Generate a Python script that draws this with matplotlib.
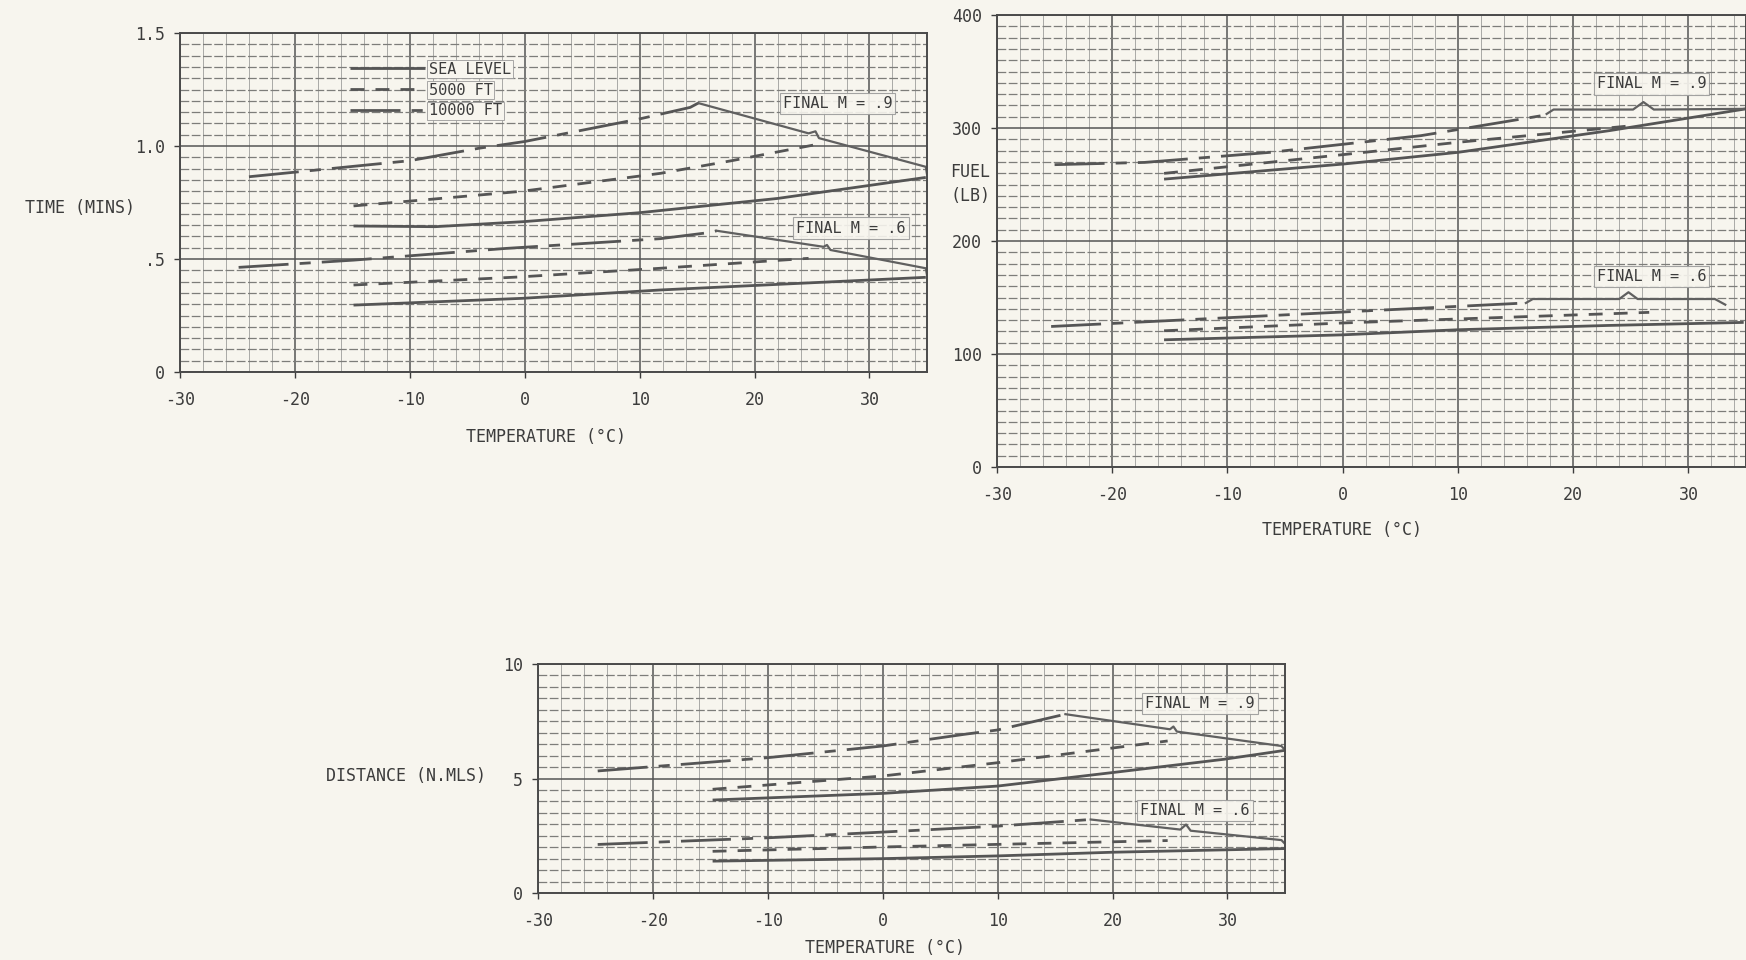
import matplotlib
matplotlib.use("Agg")
import matplotlib.pyplot as plt
import numpy as np
from matplotlib.ticker import MultipleLocator

# ---------------- data ----------------
x_ticks = [-30, -20, -10, 0, 10, 20, 30]
x_tick_labels = ["-30", "-20", "-10", "0", "10", "20", "30"]

# TIME (MINS)
time_yticks = [0, 0.5, 1.0, 1.5]
time_ylabels = ["0", ".5", "1.0", "1.5"]
t9_10k_T = [-24, -10, -4, 0, 5, 10, 14.4, 15.1]
t9_10k_v = [0.864, 0.935, 0.99, 1.02, 1.07, 1.12, 1.171, 1.19]
t9_5k_T = [-14.9, -8, -0.2, 11.8, 18, 25.1]
t9_5k_v = [0.735, 0.765, 0.80, 0.879, 0.935, 1.004]
t9_sl_T = [-14.9, -7.8, -0.2, 10, 22, 34.9]
t9_sl_v = [0.646, 0.643, 0.665, 0.705, 0.768, 0.861]
t9_br_T = [15.1, 24.7, 25.3, 25.6, 34.9, 35]
t9_br_v = [1.19, 1.056, 1.065, 1.035, 0.908, 0.876]
t6_10k_T = [-24.9, -14.9, -1.6, 11.8, 16.2, 16.7]
t6_10k_v = [0.463, 0.495, 0.547, 0.59, 0.618, 0.625]
t6_5k_T = [-14.9, -0.7, 11.8, 24.7]
t6_5k_v = [0.385, 0.42, 0.459, 0.503]
t6_sl_T = [-14.9, -0.2, 11.8, 34.9]
t6_sl_v = [0.296, 0.326, 0.363, 0.419]
t6_br_T = [16.7, 26.0, 26.3, 26.6, 34.9, 35]
t6_br_v = [0.625, 0.554, 0.562, 0.54, 0.459, 0.43]

# FUEL (LB)
fuel_yticks = [0, 100, 200, 300, 400]
fuel_ylabels = ["0", "100", "200", "300", "400"]
f9_10k_T = [-25, -17.2, -6.3, 6.8, 17.7]
f9_10k_v = [267.6, 269.6, 278.5, 293.3, 311.7]
f9_5k_T = [-15.5, 0.5, 10, 25.2]
f9_5k_v = [259.9, 277, 287.4, 302.2]
f9_sl_T = [-15.5, 0, 10, 23.2, 35]
f9_sl_v = [254.8, 268.1, 278.5, 297.8, 317]
f9_br_T = [17.7, 18.3, 25.2, 26.1, 27.0, 35]
f9_br_v = [312.5, 316.4, 316.4, 323, 316.4, 317]
f6_10k_T = [-25.3, 0, 10, 15.9]
f6_10k_v = [124.4, 137.2, 142.2, 145.2]
f6_5k_T = [-15.5, 0, 26.6]
f6_5k_v = [120.6, 127.5, 136.9]
f6_sl_T = [-15.5, 0, 10, 23, 34.8]
f6_sl_v = [112.6, 117, 121.5, 125.3, 128]
f6_br_T = [15.9, 16.5, 24.0, 24.8, 25.6, 32.3, 33.2]
f6_br_v = [145.2, 148.7, 148.7, 154.7, 148.7, 148.7, 143.7]

# DISTANCE (N.MLS)
dist_yticks = [0, 5, 10]
dist_ylabels = ["0", "5", "10"]
d9_10k_T = [-24.8, -10, 0, 7.1, 10, 15.9]
d9_10k_v = [5.33, 5.91, 6.42, 6.93, 7.12, 7.81]
d9_5k_T = [-14.8, 0, 10, 24.8]
d9_5k_v = [4.53, 5.11, 5.69, 6.64]
d9_sl_T = [-14.8, 0, 10, 20, 29.7, 35]
d9_sl_v = [4.06, 4.35, 4.67, 5.26, 5.84, 6.23]
d9_br_T = [15.9, 25.0, 25.3, 25.6, 34.7, 35]
d9_br_v = [7.81, 7.15, 7.27, 7.05, 6.42, 6.25]
d6_10k_T = [-24.8, -10, 0, 10, 18.1]
d6_10k_v = [2.12, 2.41, 2.66, 2.92, 3.21]
d6_5k_T = [-14.8, 0, 24.8]
d6_5k_v = [1.82, 2.01, 2.29]
d6_sl_T = [-14.8, 0, 10, 20, 35]
d6_sl_v = [1.39, 1.50, 1.62, 1.78, 1.94]
d6_br_T = [18.1, 25.9, 26.4, 26.8, 34.7, 35]
d6_br_v = [3.21, 2.77, 2.99, 2.72, 2.31, 2.15]

legend_labels = ["SEA LEVEL", "5000 FT", "10000 FT"]
final_labels = ["FINAL M = .9", "FINAL M = .6"]

# ---------------- style ----------------
PAPER = "#f7f5ee"
INK = "#3c3c3c"
LINE = "#555555"
FS = 12
plt.rcParams["font.family"] = ["DejaVu Sans Mono", "DejaVu Sans"]

STY_SL = dict(color=LINE, lw=2.0, ls="-", solid_capstyle="butt")
STY_5K = dict(color=LINE, lw=2.0, ls=(0, (5, 4)))
STY_10K = dict(color=LINE, lw=2.0, ls=(0, (18, 4, 4, 4)))
STY_BR = dict(color="#606060", lw=1.6, ls="-")

fig = plt.figure(figsize=(17.46, 9.6), dpi=100, facecolor=PAPER)


def setup(ax, yticks, ylabels, ymax, yminor, ymajor):
    ax.set_facecolor(PAPER)
    ax.set_xlim(-30, 35)
    ax.set_ylim(0, ymax)
    ax.xaxis.set_minor_locator(MultipleLocator(2))
    ax.yaxis.set_minor_locator(MultipleLocator(yminor))
    ax.set_xticks(x_ticks)
    ax.set_xticklabels(x_tick_labels)
    ax.set_yticks(yticks)
    ax.set_yticklabels(ylabels)
    ax.grid(which="minor", axis="x", color="#a9a9a6", lw=0.7)
    ax.grid(which="minor", axis="y", color="#7d7d7a", lw=0.9, ls=(0, (7, 2)))
    ax.grid(which="major", axis="both", color="#555555", lw=1.1)
    ax.set_axisbelow(True)
    ax.tick_params(which="major", length=4, width=1, color=INK, labelcolor=INK,
                   labelsize=FS)
    ax.tick_params(axis="x", pad=10)
    ax.tick_params(axis="y", pad=7)
    ax.tick_params(which="minor", length=0)
    for s in ax.spines.values():
        s.set_color("#4a4a4a")
        s.set_linewidth(1.4)


def label_box(ax, x, y, txt):
    ax.text(x, y, txt, ha="center", va="center", fontsize=FS - 1, color=INK,
            bbox=dict(boxstyle="square,pad=0.2", fc=PAPER, ec="#9a9a9a", lw=0.8, alpha=0.9))


# ---- TIME ----
ax1 = fig.add_axes([0.1031, 0.6125, 0.4278, 0.3531])
setup(ax1, time_yticks, time_ylabels, 1.5, 0.05, 0.5)
ax1.plot(t9_10k_T, t9_10k_v, **STY_10K)
ax1.plot(t9_5k_T, t9_5k_v, **STY_5K)
ax1.plot(t9_sl_T, t9_sl_v, **STY_SL)
ax1.plot(t9_br_T, t9_br_v, **STY_BR)
ax1.plot(t6_10k_T, t6_10k_v, **STY_10K)
ax1.plot(t6_5k_T, t6_5k_v, **STY_5K)
ax1.plot(t6_sl_T, t6_sl_v, **STY_SL)
ax1.plot(t6_br_T, t6_br_v, **STY_BR)
h_sl, = ax1.plot([], [], **STY_SL)
h_5k, = ax1.plot([], [], **STY_5K)
h_10k, = ax1.plot([], [], **STY_10K)
leg = ax1.legend([h_sl, h_5k, h_10k], legend_labels, loc="upper left",
                 bbox_to_anchor=(0.228, 0.915), frameon=False, fontsize=FS - 1,
                 handlelength=4.9, handletextpad=0.25, labelspacing=0.38,
                 borderpad=0.0, borderaxespad=0.0)
for t in leg.get_texts():
    t.set_color(INK)
    t.set_bbox(dict(boxstyle="square,pad=0.1", fc=PAPER, ec="#9a9a9a", lw=0.6))
label_box(ax1, 27.2, 1.19, final_labels[0])
label_box(ax1, 28.4, 0.637, final_labels[1])
fig.text(0.0773, 0.7833, "TIME (MINS)", ha="right", va="center", fontsize=FS, color=INK)
fig.text(0.3127, 0.5448, "TEMPERATURE (°C)", ha="center", va="center", fontsize=FS, color=INK)

# ---- FUEL ----
ax2 = fig.add_axes([0.5710, 0.5135, 0.4290, 0.4708])
setup(ax2, fuel_yticks, fuel_ylabels, 400, 10, 100)
ax2.plot(f9_10k_T, f9_10k_v, **STY_10K)
ax2.plot(f9_5k_T, f9_5k_v, **STY_5K)
ax2.plot(f9_sl_T, f9_sl_v, **STY_SL)
ax2.plot(f9_br_T, f9_br_v, **STY_BR)
ax2.plot(f6_10k_T, f6_10k_v, **STY_10K)
ax2.plot(f6_5k_T, f6_5k_v, **STY_5K)
ax2.plot(f6_sl_T, f6_sl_v, **STY_SL)
ax2.plot(f6_br_T, f6_br_v, **STY_BR)
label_box(ax2, 26.8, 339, final_labels[0])
label_box(ax2, 26.8, 169, final_labels[1])
fig.text(0.5556, 0.8083, "FUEL\n(LB)", ha="center", va="center", fontsize=FS,
         color=INK, linespacing=1.4)
fig.text(0.7686, 0.4479, "TEMPERATURE (°C)", ha="center", va="center", fontsize=FS, color=INK)

# ---- DISTANCE ----
ax3 = fig.add_axes([0.3081, 0.0698, 0.4278, 0.2385])
setup(ax3, dist_yticks, dist_ylabels, 10, 0.5, 5)
ax3.plot(d9_10k_T, d9_10k_v, **STY_10K)
ax3.plot(d9_5k_T, d9_5k_v, **STY_5K)
ax3.plot(d9_sl_T, d9_sl_v, **STY_SL)
ax3.plot(d9_br_T, d9_br_v, **STY_BR)
ax3.plot(d6_10k_T, d6_10k_v, **STY_10K)
ax3.plot(d6_5k_T, d6_5k_v, **STY_5K)
ax3.plot(d6_sl_T, d6_sl_v, **STY_SL)
ax3.plot(d6_br_T, d6_br_v, **STY_BR)
label_box(ax3, 27.6, 8.27, final_labels[0])
label_box(ax3, 27.2, 3.6, final_labels[1])
fig.text(0.2325, 0.1917, "DISTANCE (N.MLS)", ha="center", va="center", fontsize=FS, color=INK)
fig.text(0.5069, 0.0125, "TEMPERATURE (°C)", ha="center", va="center", fontsize=FS, color=INK)

fig.savefig("out.png", dpi=100, facecolor=PAPER)
